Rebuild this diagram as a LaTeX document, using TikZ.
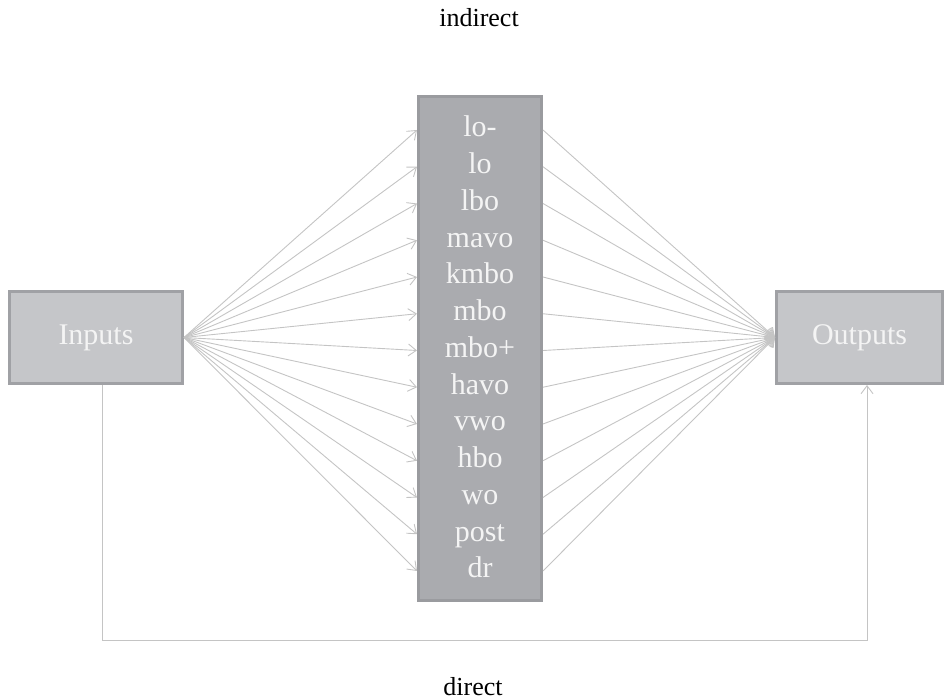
\documentclass[tikz,border=0pt]{standalone}
\usepackage{fontspec}
\setmainfont{Liberation Serif}
\usetikzlibrary{arrows.meta}
\definecolor{boxlight}{HTML}{C5C6C9}
\definecolor{boxlightedge}{HTML}{A0A1A5}
\definecolor{boxmid}{HTML}{AAABAF}
\definecolor{boxmidedge}{HTML}{9A9B9F}
\definecolor{conn}{HTML}{C4C4C4}
\definecolor{boxtext}{HTML}{F4F4F4}
\begin{document}
\begin{tikzpicture}[x=1pt,y=-1pt,
  sidebox/.style={draw=boxlightedge, fill=boxlight, line width=3pt, inner sep=0pt,
     text=boxtext, font=\fontsize{30}{36}\selectfont},
  midbox/.style={draw=boxmidedge, fill=boxmid, line width=3pt, inner sep=0pt},
  rowtext/.style={text=boxtext, font=\fontsize{30}{36}\selectfont, inner sep=0pt,
     text height=20pt, text depth=6pt, anchor=base},
  lbl/.style={font=\fontsize{26}{30}\selectfont, anchor=base, inner sep=0pt},
  arr/.style={draw=conn, line width=0.9pt, -{Straight Barb[length=8pt,width=12pt]}}
]
\useasboundingbox (0,0) rectangle (946,700);
\node[sidebox, minimum width=173pt, minimum height=92pt] (in) at (96,337.5) {Inputs};
\node[sidebox, minimum width=166pt, minimum height=92pt] (out) at (859.5,337.5) {Outputs};
\node[midbox, minimum width=123pt, minimum height=504pt] (mid) at (480,348.5) {};
\foreach \t [count=\i] in {lo-,lo,lbo,mavo,kmbo,mbo,mbo+,havo,vwo,hbo,wo,post,dr} {
  \node[rowtext] (r\i) at (480,{137+36.75*(\i-1)}) {\t};
}
\foreach \i in {1,...,13} {
  \draw[arr] (in.east) -- (mid.west |- r\i.center);
  \draw[arr] (mid.east |- r\i.center) -- (out.west);
}
\coordinate (d1) at (102,640);
\coordinate (d2) at (867,640);
\draw[arr] (in.south -| d1) -- (d1) -- (d2) -- (out.south -| d2);
\node[lbl] (ind) at (479,27) {indirect};
\node[lbl] (dir) at (473,695) {direct};
\end{tikzpicture}
\end{document}
